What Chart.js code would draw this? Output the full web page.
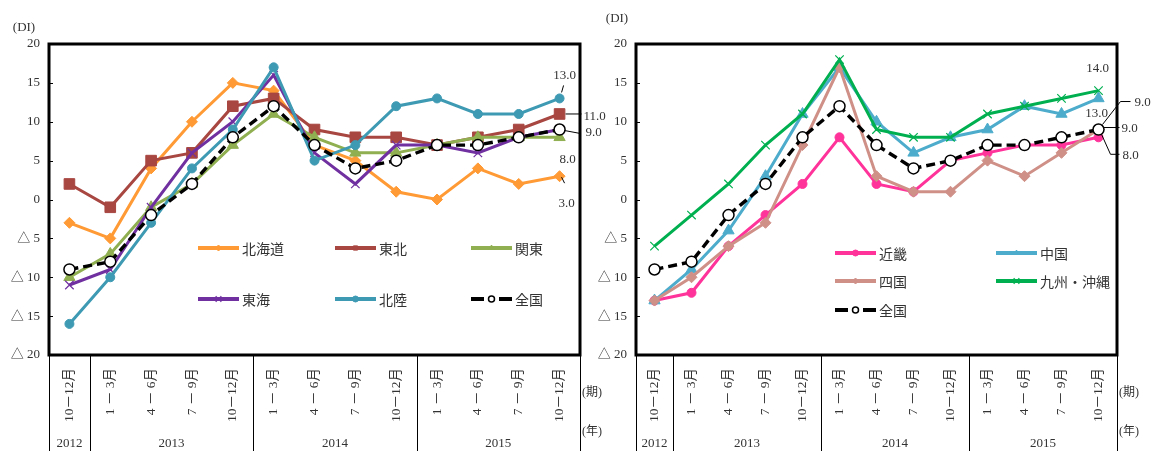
<!DOCTYPE html>
<html>
<head>
<meta charset="utf-8">
<script src="https://cdn.jsdelivr.net/npm/chart.js@4.4.1/dist/chart.umd.min.js"></script>
<style>
  html, body { margin: 0; padding: 0; background: #fff; }
  #wrap { position: relative; width: 1155px; height: 451px; overflow: hidden; background: #fff; }
  canvas { position: absolute; top: 0; }
  #c1 { left: 0; }
  #c2 { left: 575px; }
</style>
</head>
<body>
<div id="wrap">
  <canvas id="c1" width="612" height="451"></canvas>
  <canvas id="c2" width="580" height="451"></canvas>
</div>
<script>
// ---- categories (quarters) and year groups ----
const periods = ['10－12月', '1 － 3月', '4 － 6月', '7 － 9月', '10－12月',
                 '1 － 3月', '4 － 6月', '7 － 9月', '10－12月',
                 '1 － 3月', '4 － 6月', '7 － 9月', '10－12月'];
const yearNames = ['2012', '2013', '2014', '2015'];
const yearFirst = [0, 1, 5, 9];
const yearLast = [0, 4, 8, 12];

// ---- DI values by region ----
const hokkaido = [-3, -5, 4, 10, 15, 14, 7, 5, 1, 0, 4, 2, 3];
const tohoku   = [2, -1, 5, 6, 12, 13, 9, 8, 8, 7, 8, 9, 11];
const kanto    = [-10, -7, -1, 2, 7, 11, 8, 6, 6, 7, 8, 8, 8];
const tokai    = [-11, -9, -1, 6, 10, 16, 6, 2, 7, 7, 6, 8, 9];
const hokuriku = [-16, -10, -3, 4, 9, 17, 5, 7, 12, 13, 11, 11, 13];
const zenkoku  = [-9, -8, -2, 2, 8, 12, 7, 4, 5, 7, 7, 8, 9];
const kinki    = [-13, -12, -6, -2, 2, 8, 2, 1, 5, 6, 7, 7, 8];
const chugoku  = [-13, -9, -4, 3, 11, 17, 10, 6, 8, 9, 12, 11, 13];
const shikoku  = [-13, -10, -6, -3, 7, 17, 3, 1, 1, 5, 3, 6, 9];
const kyushu   = [-6, -2, 2, 7, 11, 18, 9, 8, 8, 11, 12, 13, 14];

const SERIF = "'Liberation Serif', 'Noto Sans CJK JP', serif";
const JP = "'Noto Sans CJK JP', sans-serif";
const TEXT = '#333';

function series(label, data, color, shape, radius, extra) {
  return Object.assign({
    label, data,
    borderColor: color, backgroundColor: color, borderWidth: 3,
    pointStyle: shape, pointRadius: radius,
    pointBackgroundColor: color, pointBorderColor: color, pointBorderWidth: 1,
    tension: 0
  }, extra || {});
}
function nationwide() {
  return series('全国', zenkoku, '#000', 'circle', 5.5, {
    borderDash: [9, 5], borderWidth: 3.4,
    pointBackgroundColor: '#fff', pointBorderColor: '#000', pointBorderWidth: 1.5
  });
}

// frame, group dividers, year row, units, legend and end-value labels
const decor = {
  id: 'decor',
  afterDatasetsDraw(chart, args, o) {
    const ctx = chart.ctx, a = chart.chartArea;
    const xs = chart.scales.x, ys = chart.scales.y;
    const H = chart.height;
    ctx.save();

    // plot frame
    ctx.strokeStyle = '#000';
    ctx.lineWidth = 3;
    ctx.strokeRect(a.left, a.top, a.right - a.left, a.bottom - a.top);

    // short inner tick marks on the value axis
    ctx.lineWidth = 1;
    ctx.beginPath();
    for (let v = -15; v <= 15; v += 5) {
      const y = Math.round(ys.getPixelForValue(v)) + 0.5;
      ctx.moveTo(a.left, y); ctx.lineTo(a.left + 4, y);
    }
    ctx.stroke();

    // dividers below the plot: outer edges and year boundaries
    const xs0 = [a.left, a.right];
    for (let k = 1; k < yearFirst.length; k++) {
      const i = yearFirst[k];
      xs0.push((xs.getPixelForValue(i - 1) + xs.getPixelForValue(i)) / 2);
    }
    ctx.beginPath();
    xs0.forEach(x => {
      const xx = Math.round(x) + 0.5;
      ctx.moveTo(xx, a.bottom); ctx.lineTo(xx, H);
    });
    ctx.stroke();

    // year labels
    ctx.fillStyle = TEXT;
    ctx.font = '13px ' + SERIF;
    ctx.textAlign = 'center';
    ctx.textBaseline = 'middle';
    yearNames.forEach((n, k) => {
      const x = (xs.getPixelForValue(yearFirst[k]) + xs.getPixelForValue(yearLast[k])) / 2;
      ctx.fillText(n, x, a.bottom + 89);
    });

    // unit captions
    ctx.font = '12px ' + SERIF;
    ctx.textAlign = 'left';
    ctx.fillText('(期)', a.right + 2, a.bottom + 38);
    ctx.fillText('(年)', a.right + 2, a.bottom + 77);
    ctx.textAlign = 'center';
    ctx.font = '13px ' + SERIF;
    ctx.fillText('(DI)', a.left + o.diDx, a.top + o.diDy);

    // legend
    ctx.font = '14px ' + JP;
    ctx.textAlign = 'left';
    o.legend.forEach(it => {
      const ds = chart.data.datasets[it.i];
      const x0 = a.left + o.legendCols[it.c];
      const y0 = a.top + o.legendRows[it.r];
      const len = 41;
      ctx.strokeStyle = ds.borderColor;
      ctx.lineWidth = 4;
      ctx.beginPath();
      if (ds.borderDash) {
        ctx.moveTo(x0, y0); ctx.lineTo(x0 + 13, y0);
        ctx.moveTo(x0 + 28, y0); ctx.lineTo(x0 + len, y0);
      } else {
        ctx.moveTo(x0, y0); ctx.lineTo(x0 + len, y0);
      }
      ctx.stroke();
      ctx.fillStyle = ds.pointBackgroundColor;
      ctx.strokeStyle = ds.pointBorderColor;
      ctx.lineWidth = ds.pointBorderWidth;
      Chart.helpers.drawPoint(ctx, {
        pointStyle: ds.pointStyle, rotation: 0,
        radius: ds.pointStyle === 'crossRot' ? 4 : 3,
        borderWidth: ds.pointBorderWidth
      }, x0 + len / 2, y0);
      ctx.fillStyle = TEXT;
      ctx.fillText(ds.label, x0 + len + 3, y0 + 1);
    });

    // end-of-series value labels with leader lines
    ctx.font = '13px ' + SERIF;
    ctx.strokeStyle = '#000';
    ctx.lineWidth = 1;
    ctx.fillStyle = TEXT;
    o.notes.forEach(n => {
      const ds = chart.data.datasets[n.i];
      const last = ds.data.length - 1;
      const el = chart.getDatasetMeta(n.i).data[last];
      const px = el.x, py = el.y;
      if (n.leader) {
        ctx.beginPath();
        n.leader.forEach(([dx, dy], k) => k ? ctx.lineTo(px + dx, py + dy) : ctx.moveTo(px + dx, py + dy));
        ctx.stroke();
      }
      ctx.textAlign = n.align;
      ctx.textBaseline = 'middle';
      ctx.fillText(ds.data[last].toFixed(1), px + n.dx, py + n.dy);
    });

    ctx.restore();
  }
};

function makeChart(id, datasets, axisWidth, padRight, decorOpts) {
  datasets.forEach((d, i) => { d.order = datasets.length - 1 - i; });
  return new Chart(document.getElementById(id), {
    type: 'line',
    data: { labels: periods, datasets },
    plugins: [decor],
    options: {
      responsive: false,
      animation: false,
      layout: { padding: { top: 44, left: 0, right: padRight, bottom: 0 } },
      plugins: { legend: { display: false }, tooltip: { enabled: false }, decor: decorOpts },
      scales: {
        x: {
          type: 'category',
          offset: true,
          grid: { display: false, drawTicks: false },
          border: { display: false },
          ticks: {
            autoSkip: false, minRotation: 90, maxRotation: 90, padding: 13,
            color: TEXT, font: { family: SERIF, size: 13.5 }
          },
          afterFit(s) { s.height = 96; s.paddingLeft = 0; s.paddingRight = 0; }
        },
        y: {
          min: -20, max: 20,
          grid: { display: false, drawTicks: false },
          border: { display: false },
          ticks: {
            stepSize: 5, padding: 9, color: TEXT,
            font: { family: SERIF, size: 13 },
            callback: v => v < 0 ? '△ ' + (-v) : String(v)
          },
          afterFit(s) { s.width = axisWidth; s.paddingTop = 0; s.paddingBottom = 0; }
        }
      }
    }
  });
}

// left panel: 北海道・東北・関東・東海・北陸
makeChart('c1', [
  series('北海道', hokkaido, '#FF9A35', 'rectRot', 5.5),
  series('東北', tohoku, '#A84641', 'rect', 7.5),
  series('関東', kanto, '#8FAF50', 'triangle', 6.5),
  series('東海', tokai, '#7030A0', 'crossRot', 6, { pointBorderWidth: 1.2 }),
  series('北陸', hokuriku, '#3E9AB3', 'circle', 4.5),
  nationwide()
], 49, 32, {
  diDx: -25, diDy: -16,
  legendCols: [149, 286, 422],
  legendRows: [204, 255],
  legend: [
    { i: 0, c: 0, r: 0 }, { i: 1, c: 1, r: 0 }, { i: 2, c: 2, r: 0 },
    { i: 3, c: 0, r: 1 }, { i: 4, c: 1, r: 1 }, { i: 5, c: 2, r: 1 }
  ],
  notes: [
    { i: 4, dx: 5, dy: -23, align: 'center', leader: [[2, -6], [4, -13]] },
    { i: 1, dx: 24, dy: 3, align: 'left', leader: [[6, 0], [22, 0]] },
    { i: 5, dx: 26, dy: 3, align: 'left', leader: [[5, 1], [21, 4]] },
    { i: 2, dx: 8, dy: 22, align: 'center' },
    { i: 0, dx: 7, dy: 27, align: 'center', leader: [[2, 1], [5, 7]] }
  ]
});

// right panel: 近畿・中国・四国・九州・沖縄
makeChart('c2', [
  series('近畿', kinki, '#FF339A', 'circle', 4.5),
  series('中国', chugoku, '#4DACCB', 'triangle', 6.5),
  series('四国', shikoku, '#CF9088', 'rectRot', 5.5),
  series('九州・沖縄', kyushu, '#00B050', 'crossRot', 6, { pointBorderWidth: 1.2 }),
  nationwide()
], 61, 38, {
  diDx: -19, diDy: -25,
  legendCols: [199, 360],
  legendRows: [209, 237, 266],
  legend: [
    { i: 0, c: 0, r: 0 }, { i: 1, c: 1, r: 0 },
    { i: 2, c: 0, r: 1 }, { i: 3, c: 1, r: 1 },
    { i: 4, c: 0, r: 2 }
  ],
  notes: [
    { i: 3, dx: -1, dy: -22, align: 'center' },
    { i: 4, dx: 36, dy: -27, align: 'left', leader: [[4, -5], [22, -28], [32, -28]] },
    { i: 1, dx: -2, dy: 15, align: 'center' },
    { i: 2, dx: 23, dy: -1, align: 'left', leader: [[5, -2], [21, -2]] },
    { i: 0, dx: 24, dy: 18, align: 'left', leader: [[3, -3], [12, 17], [21, 17]] }
  ]
});
</script>
</body>
</html>
